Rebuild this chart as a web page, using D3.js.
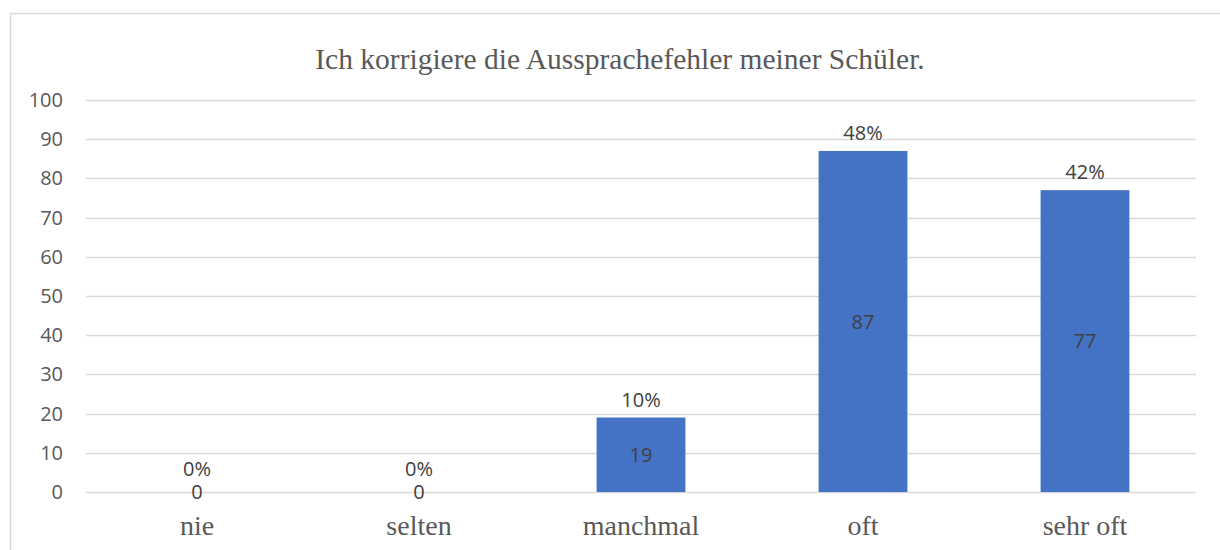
<!DOCTYPE html>
<html>
<head>
<meta charset="utf-8">
<script src="https://cdn.jsdelivr.net/npm/d3@7"></script>
<style>
  body { margin: 0; background: #fff; }
  svg { display: block; }
</style>
</head>
<body>
<div id="chart"></div>
<script>
// data
const categories = ["nie", "selten", "manchmal", "oft", "sehr oft"];
const counts = [0, 0, 19, 87, 77];
const percentLabels = ["0%", "0%", "10%", "48%", "42%"];
const yTicks = [0, 10, 20, 30, 40, 50, 60, 70, 80, 90, 100];
const title = "Ich korrigiere die Aussprachefehler meiner Schüler.";

const width = 1220, height = 550;
const margin = {top: 100, right: 24, bottom: 58, left: 86};

const svg = d3.select("#chart")
  .append("svg")
  .attr("width", width)
  .attr("height", height);

// chart frame (left + top edges visible)
svg.append("path")
  .attr("d", "M10.5,560 V13.5 H1230")
  .attr("fill", "none")
  .attr("stroke", "#d9d9d9")
  .attr("stroke-width", 1.5);

const x = d3.scaleBand()
  .domain(categories)
  .range([margin.left, width - margin.right])
  .paddingInner(0.6)
  .paddingOuter(0.3);

const y = d3.scaleLinear()
  .domain([0, 100])
  .range([height - margin.bottom, margin.top]);

// gridlines
svg.append("g")
  .selectAll("line")
  .data(yTicks)
  .join("line")
  .attr("x1", margin.left)
  .attr("x2", width - margin.right)
  .attr("y1", d => Math.round(y(d)) + 0.5)
  .attr("y2", d => Math.round(y(d)) + 0.5)
  .attr("stroke", "#d9d9d9")
  .attr("stroke-width", 1.3);

// y axis labels
const yAxis = d3.axisLeft(y).tickValues(yTicks).tickSize(0).tickPadding(23);
svg.append("g")
  .attr("transform", `translate(${margin.left},0)`)
  .call(yAxis)
  .call(g => g.select(".domain").remove())
  .call(g => g.selectAll("text")
    .attr("fill", "#595959")
    .style("font-family", "'Open Sans', 'Noto Sans', sans-serif")
    .style("font-size", "20px"));

// bars
svg.append("g")
  .selectAll("rect")
  .data(counts)
  .join("rect")
  .attr("x", (d, i) => x(categories[i]))
  .attr("y", d => y(d))
  .attr("width", x.bandwidth())
  .attr("height", d => y(0) - y(d))
  .attr("fill", "#4472c4");

// x axis labels
const xAxis = d3.axisBottom(x).tickSize(0).tickPadding(23);
svg.append("g")
  .attr("transform", `translate(0,${y(0)})`)
  .call(xAxis)
  .call(g => g.select(".domain").remove())
  .call(g => g.selectAll("text")
    .attr("fill", "#595959")
    .style("font-family", "'Liberation Serif', 'Times New Roman', serif")
    .style("font-size", "28px"));

// value labels inside bars
svg.append("g")
  .selectAll("text")
  .data(counts)
  .join("text")
  .attr("x", (d, i) => x(categories[i]) + x.bandwidth() / 2)
  .attr("y", d => (y(d) + y(0)) / 2)
  .attr("dy", "0.36em")
  .attr("text-anchor", "middle")
  .attr("fill", "#404040")
  .style("font-family", "'Open Sans', 'Noto Sans', sans-serif")
  .style("font-size", "20px")
  .text(d => d);

// percent labels above bars
svg.append("g")
  .selectAll("text")
  .data(counts)
  .join("text")
  .attr("x", (d, i) => x(categories[i]) + x.bandwidth() / 2)
  .attr("y", d => y(d) - (d === 0 ? 16 : 11))
  .attr("text-anchor", "middle")
  .attr("fill", "#404040")
  .style("font-family", "'Open Sans', 'Noto Sans', sans-serif")
  .style("font-size", "20px")
  .text((d, i) => percentLabels[i]);

// title
svg.append("text")
  .attr("x", 620)
  .attr("y", 69)
  .attr("text-anchor", "middle")
  .attr("fill", "#595959")
  .style("font-family", "'Liberation Serif', 'Times New Roman', serif")
  .style("font-size", "29.5px")
  .text(title);
</script>
</body>
</html>
